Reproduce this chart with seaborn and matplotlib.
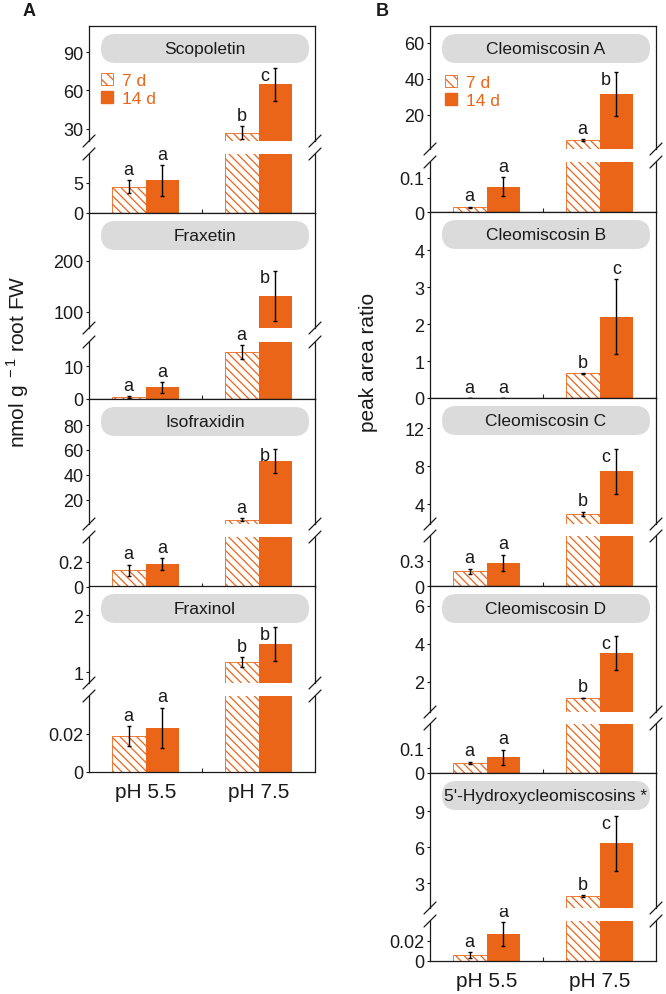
import matplotlib
matplotlib.use("Agg")
import matplotlib.pyplot as plt
from matplotlib.patches import FancyBboxPatch, Patch
from matplotlib.lines import Line2D
import pandas as pd
import seaborn as sns

W, H = 666, 995
ORANGE = "#EB6519"
PILL = "#DBDBDB"
INK = "#1a1a1a"
HATCH = "\\\\\\\\"

ph_levels = ["pH 5.5", "pH 7.5"]
time_levels = ["7 d", "14 d"]

# mean / error values, order = [pH 5.5, pH 7.5]
scopoletin_7d = [4.4, 27.0]
scopoletin_7d_err = [1.0, 5.0]
scopoletin_14d = [5.4, 64.7]
scopoletin_14d_err = [2.6, 13.0]
scopoletin_letters = ["a", "a", "b", "c"]

fraxetin_7d = [0.5, 14.2]
fraxetin_7d_err = [0.3, 2.1]
fraxetin_14d = [3.5, 132.0]
fraxetin_14d_err = [1.7, 49.0]
fraxetin_letters = ["a", "a", "a", "b"]

isofraxidin_7d = [0.135, 3.8]
isofraxidin_7d_err = [0.044, 1.0]
isofraxidin_14d = [0.184, 51.3]
isofraxidin_14d_err = [0.048, 9.8]
isofraxidin_letters = ["a", "a", "a", "b"]

fraxinol_7d = [0.019, 1.175]
fraxinol_7d_err = [0.0052, 0.09]
fraxinol_14d = [0.0232, 1.49]
fraxinol_14d_err = [0.0107, 0.3]
fraxinol_letters = ["a", "a", "b", "b"]

cleo_a_7d = [0.014, 6.1]
cleo_a_7d_err = [0.002, 0.3]
cleo_a_14d = [0.074, 31.7]
cleo_a_14d_err = [0.028, 12.2]
cleo_a_letters = ["a", "a", "a", "b"]

cleo_b_7d = [0.0, 0.67]
cleo_b_7d_err = [0.0, 0.01]
cleo_b_14d = [0.0, 2.2]
cleo_b_14d_err = [0.0, 1.02]
cleo_b_letters = ["a", "a", "b", "c"]

cleo_c_7d = [0.18, 2.95]
cleo_c_7d_err = [0.03, 0.25]
cleo_c_14d = [0.276, 7.45]
cleo_c_14d_err = [0.1, 2.35]
cleo_c_letters = ["a", "a", "b", "c"]

cleo_d_7d = [0.04, 1.16]
cleo_d_7d_err = [0.005, 0.02]
cleo_d_14d = [0.064, 3.53]
cleo_d_14d_err = [0.03, 0.9]
cleo_d_letters = ["a", "a", "b", "c"]

hydroxy_7d = [0.006, 1.92]
hydroxy_7d_err = [0.003, 0.1]
hydroxy_14d = [0.027, 6.33]
hydroxy_14d_err = [0.012, 2.3]
hydroxy_letters = ["a", "a", "b", "c"]

LEFT = (89, 315)
RIGHT = (430, 656)

panels = [
    dict(name="Scopoletin", data=(scopoletin_7d, scopoletin_7d_err, scopoletin_14d, scopoletin_14d_err),
         letters=scopoletin_letters, col=LEFT, y=(27, 142, 155, 214),
         upper=(20.6, 110.3), upper_ticks=[30, 60, 90], lower=(0, 9.8), lower_ticks=[0, 5],
         legend=(0.053, 0.595), side=True),
    dict(name="Fraxetin", data=(fraxetin_7d, fraxetin_7d_err, fraxetin_14d, fraxetin_14d_err),
         letters=fraxetin_letters, col=LEFT, y=(214, 329, 343, 400),
         upper=(68.6, 294), upper_ticks=[100, 200], lower=(0, 17.3), lower_ticks=[0, 10], side=True),
    dict(name="Isofraxidin", data=(isofraxidin_7d, isofraxidin_7d_err, isofraxidin_14d, isofraxidin_14d_err),
         letters=isofraxidin_letters, col=LEFT, y=(400, 525, 538, 588),
         upper=(0.3, 101), upper_ticks=[20, 40, 60, 80], lower=(0, 0.4), lower_ticks=[0, 0.2], side=True),
    dict(name="Fraxinol", data=(fraxinol_7d, fraxinol_7d_err, fraxinol_14d, fraxinol_14d_err),
         letters=fraxinol_letters, col=LEFT, y=(587, 684, 697, 773),
         upper=(0.807, 2.51), upper_ticks=[1, 2], lower=(0, 0.04), lower_ticks=[0, 0.02],
         xlabels=True, side=True),
    dict(name="Cleomiscosin A", data=(cleo_a_7d, cleo_a_7d_err, cleo_a_14d, cleo_a_14d_err),
         letters=cleo_a_letters, col=RIGHT, y=(27, 150, 163, 213),
         upper=(1.1, 69.4), upper_ticks=[20, 40, 60], lower=(0, 0.147), lower_ticks=[0, 0.1],
         legend=(0.066, 0.605), side=True),
    dict(name="Cleomiscosin B", data=(cleo_b_7d, cleo_b_7d_err, cleo_b_14d, cleo_b_14d_err),
         letters=cleo_b_letters, col=RIGHT, y=(213, None, None, 399),
         lower=(0, 5.03), lower_ticks=[0, 1, 2, 3, 4]),
    dict(name="Cleomiscosin C", data=(cleo_c_7d, cleo_c_7d_err, cleo_c_14d, cleo_c_14d_err),
         letters=cleo_c_letters, col=RIGHT, y=(399, 525, 537, 587),
         upper=(1.9, 15.2), upper_ticks=[4, 8, 12], lower=(0, 0.6), lower_ticks=[0, 0.3], side=True),
    dict(name="Cleomiscosin D", data=(cleo_d_7d, cleo_d_7d_err, cleo_d_14d, cleo_d_14d_err),
         letters=cleo_d_letters, col=RIGHT, y=(587, 713, 725, 774),
         upper=(0.42, 7.05), upper_ticks=[2, 4, 6], lower=(0, 0.196), lower_ticks=[0, 0.1], side=True),
    dict(name="5'-Hydroxycleomiscosins *", data=(hydroxy_7d, hydroxy_7d_err, hydroxy_14d, hydroxy_14d_err),
         letters=hydroxy_letters, col=RIGHT, y=(774, 909, 922, 962),
         upper=(0.92, 12.2), upper_ticks=[3, 6, 9], lower=(0, 0.04), lower_ticks=[0, 0.02],
         xlabels=True, side=True),
]

sns.set_style("ticks")
plt.rcParams["font.family"] = ["Liberation Sans", "DejaVu Sans"]
plt.rcParams["mathtext.fontset"] = "custom"
plt.rcParams["mathtext.rm"] = "Liberation Sans"
plt.rcParams["hatch.linewidth"] = 0.9
plt.rcParams["axes.linewidth"] = 0.9
plt.rcParams["axes.edgecolor"] = INK


def rect(x0, x1, y0, y1):
    return [x0 / W, 1 - y1 / H, (x1 - x0) / W, (y1 - y0) / H]


def frame(m7, e7, m14, e14):
    return pd.DataFrame({
        "pH": ph_levels * 2,
        "time": ["7 d"] * 2 + ["14 d"] * 2,
        "value": m7 + m14,
        "err": e7 + e14,
    })


def draw_bars(ax, df, ymin=0.0):
    sns.barplot(data=df, x="pH", y="value", hue="time", order=ph_levels,
                hue_order=time_levels, palette=[ORANGE, ORANGE], width=0.6,
                errorbar=None, legend=False, saturation=1, linewidth=0, ax=ax)
    bars = list(ax.containers)
    for p in bars[0]:
        p.set_facecolor("white")
        p.set_edgecolor(ORANGE)
        p.set_hatch(HATCH)
        p.set_linewidth(0.6)
    centers = {}
    for cont, t in zip(bars, time_levels):
        sub = df[df["time"] == t].set_index("pH").loc[ph_levels]
        xs = pd.Series([p.get_x() + p.get_width() / 2 for p in cont], index=ph_levels)
        for ph in ph_levels:
            centers[(ph, t)] = xs[ph]
        # skip error bars lying entirely below this section
        keep = (sub["value"] + sub["err"]) >= ymin
        if keep.any():
            ax.errorbar(xs[keep], sub["value"][keep], yerr=sub["err"][keep], fmt="none",
                        ecolor="black", elinewidth=1.0, capsize=1.6, capthick=1.0)
    ax.set_xlim(-0.5, 1.5)
    ax.set_xlabel("")
    ax.set_ylabel("")
    return centers


def style_y(ax, lim, ticks):
    ax.set_ylim(*lim)
    ax.set_yticks(ticks)
    ax.set_yticklabels([f"{t:g}" for t in ticks])
    ax.tick_params(axis="y", direction="out", length=2.5, width=0.8,
                   labelsize=13, pad=1.5, colors=INK)


fig = plt.figure(figsize=(W / 100, H / 100), dpi=100)
over = fig.add_axes([0, 0, 1, 1], zorder=10)
over.set_xlim(0, W)
over.set_ylim(H, 0)
over.axis("off")

for spec in panels:
    x0, x1 = spec["col"]
    top, brk_hi, brk_lo, bottom = spec["y"]
    df = frame(*spec["data"])

    low = fig.add_axes(rect(x0, x1, brk_lo if brk_lo else top, bottom))
    centers = draw_bars(low, df)
    style_y(low, spec["lower"], spec["lower_ticks"])
    low.set_xticks([0, 1])
    low.set_xticklabels(ph_levels if spec.get("xlabels") else ["", ""])
    low.tick_params(axis="x", which="major", length=0, labelsize=15, pad=7, colors=INK)
    low.set_xticks([0.5], minor=True)
    low.tick_params(axis="x", which="minor", direction="in", length=3, width=0.8)

    up = None
    if brk_hi:
        up = fig.add_axes(rect(x0, x1, top, brk_hi))
        draw_bars(up, df, ymin=spec["upper"][0])
        style_y(up, spec["upper"], spec["upper_ticks"])
        up.set_xticks([])
        up.spines["bottom"].set_visible(False)
        low.spines["top"].set_visible(False)
        # break marks on both spines
        for xs in (x0, x1):
            for yb in (brk_hi, brk_lo):
                over.add_line(Line2D([xs - 6, xs + 6], [yb + 6, yb - 6],
                                     color=INK, lw=0.9))

    # significance letters
    order = [(ph, t) for ph in ph_levels for t in time_levels]
    for i, ((ph, t), letter) in enumerate(zip(order, spec["letters"])):
        row = df[(df["pH"] == ph) & (df["time"] == t)].iloc[0]
        ytop = row["value"] + row["err"]
        target = up if (up is not None and ytop > spec["lower"][1]) else low
        if spec.get("side") and i == 3:
            offset = (-7.5, -8.5)
        else:
            offset = (0, 4.5)
        target.annotate(letter, (centers[(ph, t)], ytop), xytext=offset,
                        textcoords="offset points", ha="center", va="baseline",
                        fontsize=13, color=INK, annotation_clip=False)

    # title pill
    pill = FancyBboxPatch((x0 + 12, top + 8), (x1 - x0) - 18, 29,
                          boxstyle="round,pad=0,rounding_size=14.5",
                          fc=PILL, ec="none")
    over.add_patch(pill)
    over.text((x0 + 12 + x1 - 6) / 2, top + 22.5, spec["name"], ha="center",
              va="center", fontsize=12.5, color=INK)

    if "legend" in spec:
        handles = [Patch(facecolor="white", edgecolor=ORANGE, hatch="\\\\\\", lw=0.6),
                   Patch(facecolor=ORANGE, edgecolor=ORANGE)]
        up.legend(handles, time_levels, loc="upper left", bbox_to_anchor=spec["legend"],
                  frameon=False, fontsize=12.5, labelcolor=ORANGE, handlelength=0.7,
                  handleheight=0.7, handletextpad=0.5, labelspacing=0.2,
                  borderpad=0, borderaxespad=0)

over.text(29, 12, "A", fontsize=13, fontweight="bold", ha="center", va="center", color=INK)
over.text(382, 12, "B", fontsize=13, fontweight="bold", ha="center", va="center", color=INK)
over.text(18, 362, r"nmol g$^{\mathregular{\ -1}}$ root FW", rotation=90, fontsize=15,
          ha="center", va="center", color=INK)
over.text(369, 362, "peak area ratio", rotation=90, fontsize=15,
          ha="center", va="center", color=INK)

fig.savefig("out.png", dpi=100)
